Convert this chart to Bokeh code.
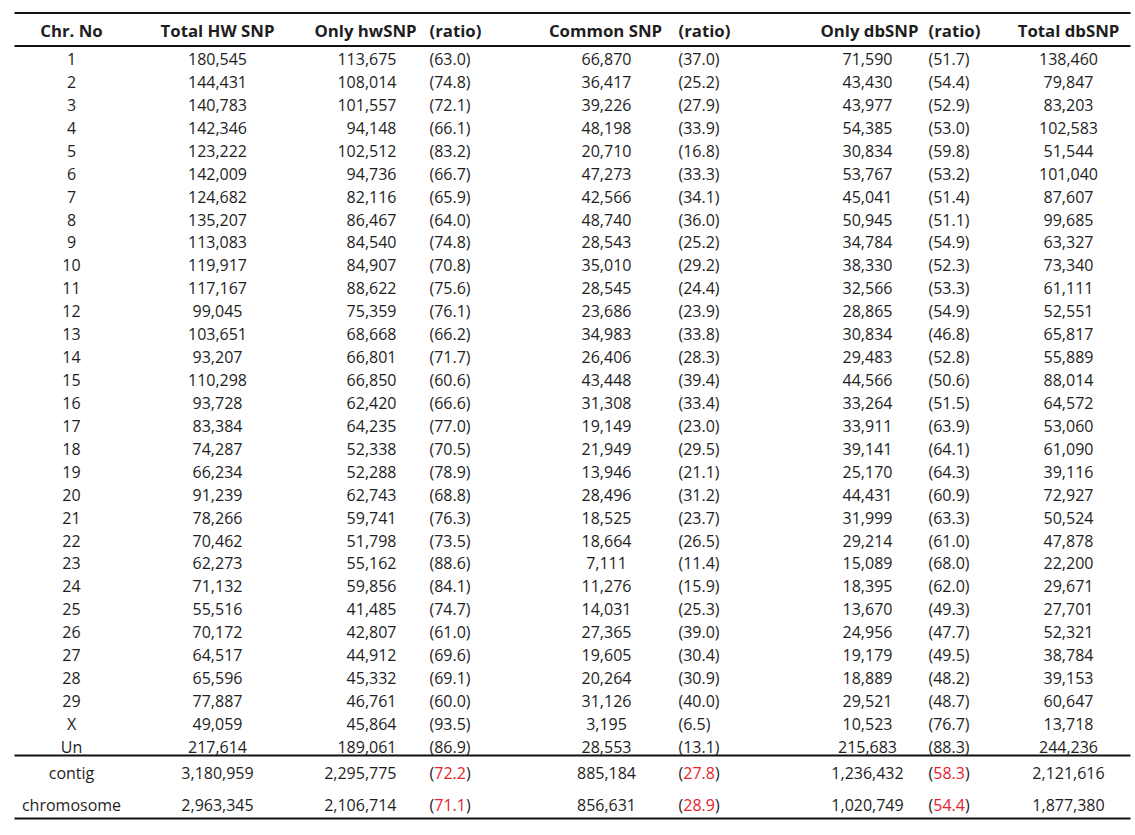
from bokeh.plotting import figure
from bokeh.models import Range1d, ColumnDataSource
from bokeh.core.properties import value
from bokeh.embed import file_html
from bokeh.resources import INLINE

headers = ["Chr. No", "Total HW SNP", "Only hwSNP", "(ratio)", "Common SNP", "(ratio)", "Only dbSNP", "(ratio)", "Total dbSNP"]

chrom = [str(i) for i in range(1, 30)] + ["X", "Un"]
total_hw = [180545, 144431, 140783, 142346, 123222, 142009, 124682, 135207, 113083, 119917,
            117167, 99045, 103651, 93207, 110298, 93728, 83384, 74287, 66234, 91239,
            78266, 70462, 62273, 71132, 55516, 70172, 64517, 65596, 77887, 49059, 217614]
only_hw = [113675, 108014, 101557, 94148, 102512, 94736, 82116, 86467, 84540, 84907,
           88622, 75359, 68668, 66801, 66850, 62420, 64235, 52338, 52288, 62743,
           59741, 51798, 55162, 59856, 41485, 42807, 44912, 45332, 46761, 45864, 189061]
only_hw_ratio = [63.0, 74.8, 72.1, 66.1, 83.2, 66.7, 65.9, 64.0, 74.8, 70.8,
                 75.6, 76.1, 66.2, 71.7, 60.6, 66.6, 77.0, 70.5, 78.9, 68.8,
                 76.3, 73.5, 88.6, 84.1, 74.7, 61.0, 69.6, 69.1, 60.0, 93.5, 86.9]
common = [66870, 36417, 39226, 48198, 20710, 47273, 42566, 48740, 28543, 35010,
          28545, 23686, 34983, 26406, 43448, 31308, 19149, 21949, 13946, 28496,
          18525, 18664, 7111, 11276, 14031, 27365, 19605, 20264, 31126, 3195, 28553]
common_ratio = [37.0, 25.2, 27.9, 33.9, 16.8, 33.3, 34.1, 36.0, 25.2, 29.2,
                24.4, 23.9, 33.8, 28.3, 39.4, 33.4, 23.0, 29.5, 21.1, 31.2,
                23.7, 26.5, 11.4, 15.9, 25.3, 39.0, 30.4, 30.9, 40.0, 6.5, 13.1]
only_db = [71590, 43430, 43977, 54385, 30834, 53767, 45041, 50945, 34784, 38330,
           32566, 28865, 30834, 29483, 44566, 33264, 33911, 39141, 25170, 44431,
           31999, 29214, 15089, 18395, 13670, 24956, 19179, 18889, 29521, 10523, 215683]
only_db_ratio = [51.7, 54.4, 52.9, 53.0, 59.8, 53.2, 51.4, 51.1, 54.9, 52.3,
                 53.3, 54.9, 46.8, 52.8, 50.6, 51.5, 63.9, 64.1, 64.3, 60.9,
                 63.3, 61.0, 68.0, 62.0, 49.3, 47.7, 49.5, 48.2, 48.7, 76.7, 88.3]
total_db = [138460, 79847, 83203, 102583, 51544, 101040, 87607, 99685, 63327, 73340,
            61111, 52551, 65817, 55889, 88014, 64572, 53060, 61090, 39116, 72927,
            50524, 47878, 22200, 29671, 27701, 52321, 38784, 39153, 60647, 13718, 244236]

sum_labels = ["contig", "chromosome"]
sum_total_hw = [3180959, 2963345]
sum_only_hw = [2295775, 2106714]
sum_only_hw_ratio = [72.2, 71.1]
sum_common = [885184, 856631]
sum_common_ratio = [27.8, 28.9]
sum_only_db = [1236432, 1020749]
sum_only_db_ratio = [58.3, 54.4]
sum_total_db = [2121616, 1877380]

W, H = 1135, 835
p = figure(width=W, height=H, output_backend="svg", toolbar_location=None,
           x_range=Range1d(0, W), y_range=Range1d(H, 0),
           min_border=0, outline_line_color=None)
p.axis.visible = False
p.grid.visible = False
p.background_fill_color = "white"
p.border_fill_color = "white"

FONT = value("Open Sans")
FS = "16px"
FS_HEAD = "16.8px"
TXT = "#1e1e1e"
RED = "#e5232d"

# column layout for cells: (x, align)
cols = [(71, "center"), (217, "center"), (396, "right"), (429, "left"),
        (606, "center"), (678, "left"), (867, "center"), (928, "left"), (1068, "center")]
# header layout
head_cols = [(71, "center"), (217, "center"), (365, "center"), (429, "left"),
             (605, "center"), (678, "left"), (869, "center"), (928, "left"), (1068, "center")]

y_head = 30
y0, dy = 58.5, 22.93
y_sum = [772, 804]

def fmt(n):
    return f"{n:,}"

def put(xs, ys, texts, align, bold=False, color=TXT):
    src = ColumnDataSource(dict(x=xs, y=ys, t=texts))
    p.text(x="x", y="y", text="t", source=src, text_align=align, text_baseline="middle",
           text_font=FONT, text_font_size=FS_HEAD if bold else FS, text_color=color,
           text_font_style="bold" if bold else "normal")

# header
for (x, a), h in zip(head_cols, headers):
    put([x], [y_head], [h], a, bold=True)

rows_y = [y0 + i * dy for i in range(len(chrom))]
columns = [chrom,
           [fmt(v) for v in total_hw], [fmt(v) for v in only_hw],
           [f"({v:.1f})" for v in only_hw_ratio],
           [fmt(v) for v in common], [f"({v:.1f})" for v in common_ratio],
           [fmt(v) for v in only_db], [f"({v:.1f})" for v in only_db_ratio],
           [fmt(v) for v in total_db]]
for (x, a), col in zip(cols, columns):
    put([x] * len(col), rows_y, col, a)

# summary rows
sum_cols = {0: sum_labels,
            1: [fmt(v) for v in sum_total_hw], 2: [fmt(v) for v in sum_only_hw],
            4: [fmt(v) for v in sum_common], 6: [fmt(v) for v in sum_only_db],
            8: [fmt(v) for v in sum_total_db]}
for ci, col in sum_cols.items():
    x, a = cols[ci]
    put([x] * 2, y_sum, col, a)

paren_w = 4.75
num_w = 31.8
for ci, vals in [(3, sum_only_hw_ratio), (5, sum_common_ratio), (7, sum_only_db_ratio)]:
    x = cols[ci][0]
    put([x] * 2, y_sum, ["("] * 2, "left")
    put([x + paren_w] * 2, y_sum, [f"{v:.1f}" for v in vals], "left", color=RED)
    put([x + paren_w + num_w] * 2, y_sum, [")"] * 2, "left")

# rules
for yy in [12.5, 45.5, 755, 818]:
    p.line(x=[14, 1130], y=[yy, yy], line_color="#111111", line_width=2)

open("out.html", "w").write(file_html(p, INLINE))
